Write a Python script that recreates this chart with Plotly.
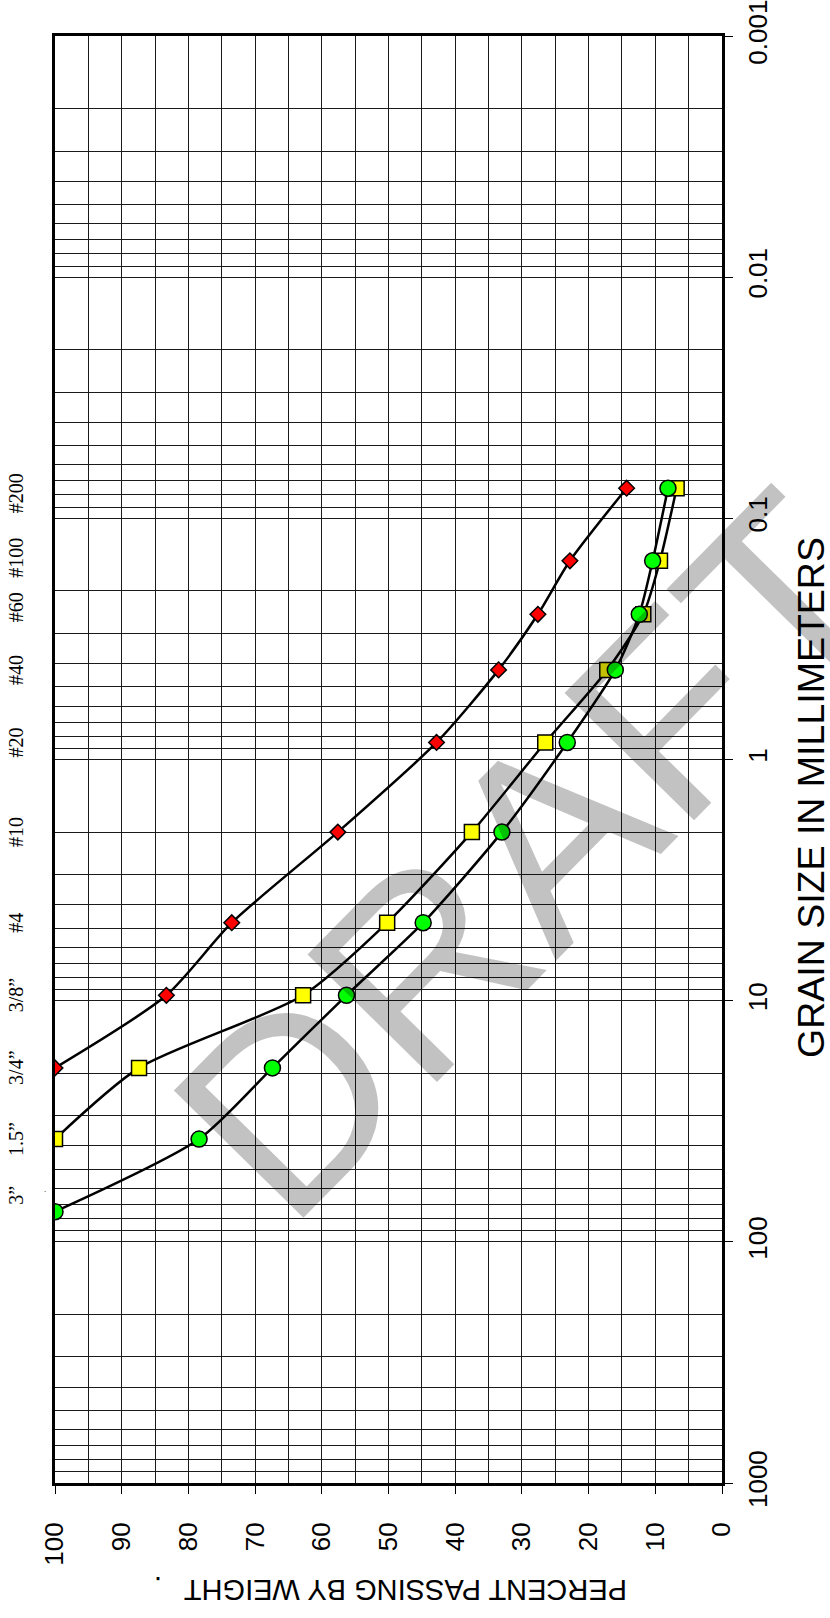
import numpy as np
import plotly.graph_objects as go

# ---------------- data ----------------
sieve_labels = ["3\u201d", "1.5\u201d", "3/4\u201d", "3/8\u201d", "#4", "#10", "#20", "#40", "#60", "#100", "#200"]
sieve_mm = [75.0, 37.5, 19.0, 9.5, 4.75, 2.0, 0.85, 0.425, 0.25, 0.15, 0.075]

red_sizes = [19.0, 9.5, 4.75, 2.0, 0.85, 0.425, 0.25, 0.15, 0.075]
red_pass = [100.0, 83.3, 73.5, 57.6, 42.8, 33.5, 27.6, 22.8, 14.3]

yellow_sizes = [37.5, 19.0, 9.5, 4.75, 2.0, 0.85, 0.425, 0.25, 0.15, 0.075]
yellow_pass = [100.0, 87.4, 62.8, 50.2, 37.5, 26.5, 17.2, 11.8, 9.3, 6.8]

green_sizes = [75.0, 37.5, 19.0, 9.5, 4.75, 2.0, 0.85, 0.425, 0.25, 0.15, 0.075]
green_pass = [100.0, 78.4, 67.4, 56.3, 44.8, 33.0, 23.2, 16.0, 12.4, 10.4, 8.1]

size_ticks = [0.001, 0.01, 0.1, 1, 10, 100, 1000]
size_ticktext = ["0.001", "0.01", "0.1", "1", "10", "100", "1000"]
pct_ticks = [100, 90, 80, 70, 60, 50, 40, 30, 20, 10, 0]

# ---------------- layout geometry ----------------
W, H = 830, 1618
PL, PR, PT, PB = 55, 722, 36, 1483          # plot area in pixels


def px_x(sx):
    return (sx - PL) / (PR - PL)


def px_y(sy):
    return (PB - sy) / (PB - PT)


FONT = "Arial, 'Liberation Sans', Helvetica, sans-serif"
SERIF = "'Times New Roman', 'Liberation Serif', serif"

minor_sizes = [m * 10.0 ** e for e in range(-3, 3) for m in range(2, 10)]

fig = go.Figure()

series = [
    (red_pass, red_sizes, "diamond", "#ff0000", 12),
    (yellow_pass, yellow_sizes, "square", "#ffff00", 15),
    (green_pass, green_sizes, "circle", "#00ff00", 16),
]
for xs, ys, sym, col, sz in series:
    fig.add_trace(go.Scatter(
        x=xs, y=ys, mode="lines+markers",
        line=dict(color="black", width=2.5, shape="spline", smoothing=0.7),
        marker=dict(symbol=sym, color=col, size=sz, line=dict(color="black", width=1.5)),
        hoverinfo="skip", showlegend=False,
    ))

fig.update_xaxes(
    range=[100, 0], tickmode="array", tickvals=pct_ticks,
    ticktext=[str(v) for v in pct_ticks],
    ticks="outside", ticklen=8, tickwidth=1, tickcolor="black",
    tickangle=-90, tickfont=dict(family=FONT, size=26, color="black"),
    ticklabelstandoff=18, ticklabeloverflow="allow", automargin=False,
    showgrid=True, gridcolor="#1a1a1a", gridwidth=1,
    minor=dict(dtick=5, tick0=0, showgrid=True, gridcolor="#1a1a1a", gridwidth=1, ticks=""),
    showline=True, linecolor="black", linewidth=3, mirror=True,
    zeroline=False,
)
fig.update_yaxes(
    type="log", range=[3.00001, -3.00001], side="right",
    tickmode="array", tickvals=size_ticks, ticktext=size_ticktext,
    ticks="outside", ticklen=8, tickwidth=1, tickcolor="black",
    tickangle=-90, tickfont=dict(family=FONT, size=26, color="black"),
    ticklabelstandoff=3, ticklabeloverflow="allow", automargin=False,
    showgrid=True, gridcolor="#1a1a1a", gridwidth=1,
    minor=dict(tickmode="array", tickvals=minor_sizes, showgrid=True,
               gridcolor="#1a1a1a", gridwidth=1, ticks=""),
    showline=True, linecolor="black", linewidth=3, mirror=True,
    zeroline=False,
)

annotations = []
label_shift = [16, 0, 0, 0, 0, 0, 0, 0, 7, 3, -5]
for lab, mm, sh in zip(sieve_labels, sieve_mm, label_shift):
    annotations.append(dict(
        text=lab, x=px_x(16), xref="paper", y=np.log10(mm), yref="y",
        yshift=sh, showarrow=False, textangle=-90,
        font=dict(family=SERIF, size=20, color="black"),
        xanchor="center", yanchor="middle",
    ))

annotations.append(dict(
    text=".", x=px_x(42), xref="paper", y=px_y(1196), yref="paper",
    showarrow=False, font=dict(family=FONT, size=8, color="black"),
))

annotations.append(dict(
    text="GRAIN SIZE IN MILLIMETERS", x=px_x(811), xref="paper", y=px_y(798), yref="paper",
    showarrow=False, textangle=-90, font=dict(family=FONT, size=37.5, color="black"),
    xanchor="center", yanchor="middle",
))
annotations.append(dict(
    text="PERCENT PASSING BY WEIGHT", x=px_x(406), xref="paper", y=px_y(1590), yref="paper",
    showarrow=False, textangle=180, font=dict(family=FONT, size=29, color="black"),
    xanchor="center", yanchor="middle",
))
annotations.append(dict(
    text=".", x=px_x(158), xref="paper", y=px_y(1587), yref="paper",
    showarrow=False, textangle=180, font=dict(family=FONT, size=29, color="black"),
    xanchor="center", yanchor="middle",
))
annotations.append(dict(
    text="DRAFT", x=px_x(531), xref="paper", y=px_y(855), yref="paper",
    showarrow=False, textangle=-45.5,
    font=dict(family=FONT, size=264, color="rgba(0,0,0,0.24)"),
    xanchor="center", yanchor="middle",
))

fig.update_layout(
    width=W, height=H,
    margin=dict(l=PL, r=W - PR, t=PT, b=H - PB, pad=0, autoexpand=False),
    paper_bgcolor="white", plot_bgcolor="white",
    showlegend=False, annotations=annotations,
)

fig.write_html("out.html", config={"displayModeBar": False},
               post_script="document.body.style.margin='0px';")
